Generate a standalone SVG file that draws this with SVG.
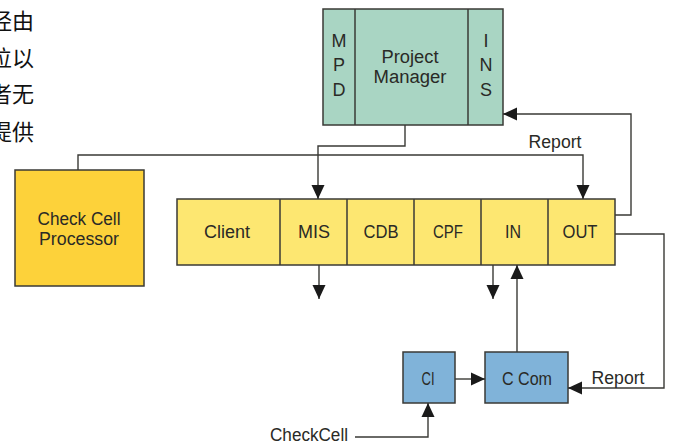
<svg xmlns="http://www.w3.org/2000/svg" width="673" height="444" viewBox="0 0 673 444">
<defs>
<style>
.box{stroke:#3a3a36;stroke-width:1.5}
.pm{fill:#a9d5c3}
.row{fill:#fde771}
.ccp{fill:#fdd23a}
.blue{fill:#80b3d9}
.t{font-family:"Liberation Sans",Arial,sans-serif;font-size:18px;fill:#2a2a26;text-anchor:middle}
.zh{font-family:"Noto Sans CJK SC","Noto Sans CJK JP",serif;font-size:22px;fill:#111}
.c{fill:none;stroke:#3a3a36;stroke-width:1.4}
</style>
<marker id="ah" markerUnits="userSpaceOnUse" markerWidth="14" markerHeight="14" viewBox="0 0 14 14" refX="14" refY="7" orient="auto">
<path d="M0,0.5 L14,7 L0,13.5 Z" fill="#1a1a1a"/>
</marker>
</defs>
<rect width="673" height="444" fill="#fff"/>

<g id="side-text">
<text class="zh" x="-10" y="29">经由</text>
<text class="zh" x="-10" y="66">位以</text>
<text class="zh" x="-10" y="102">者无</text>
<text class="zh" x="-10" y="140">提供</text>
</g>

<g id="project-manager">
<rect class="box pm" x="323" y="9" width="180" height="116"/>
<line class="box" x1="355" y1="9" x2="355" y2="125"/>
<line class="box" x1="468" y1="9" x2="468" y2="125"/>
<text class="t" x="339" y="47">M</text>
<text class="t" x="339" y="71">P</text>
<text class="t" x="339" y="96">D</text>
<text class="t" x="410" y="63" textLength="57" lengthAdjust="spacingAndGlyphs">Project</text>
<text class="t" x="410" y="83" textLength="73" lengthAdjust="spacingAndGlyphs">Manager</text>
<text class="t" x="486" y="47">I</text>
<text class="t" x="486" y="71">N</text>
<text class="t" x="486" y="96">S</text>
</g>

<g id="check-cell-processor">
<rect class="box ccp" x="15" y="170" width="129" height="116"/>
<text class="t" x="79" y="225" textLength="83" lengthAdjust="spacingAndGlyphs">Check Cell</text>
<text class="t" x="79" y="245" textLength="80" lengthAdjust="spacingAndGlyphs">Processor</text>
</g>

<g id="module-row">
<rect class="box row" x="177" y="199" width="438" height="66"/>
<line class="box" x1="280" y1="199" x2="280" y2="265"/>
<line class="box" x1="347" y1="199" x2="347" y2="265"/>
<line class="box" x1="414" y1="199" x2="414" y2="265"/>
<line class="box" x1="481" y1="199" x2="481" y2="265"/>
<line class="box" x1="548" y1="199" x2="548" y2="265"/>
<text class="t" x="227" y="238" textLength="46" lengthAdjust="spacingAndGlyphs">Client</text>
<text class="t" x="314" y="238" textLength="32" lengthAdjust="spacingAndGlyphs">MIS</text>
<text class="t" x="381" y="238" textLength="35" lengthAdjust="spacingAndGlyphs">CDB</text>
<text class="t" x="448" y="238" textLength="30" lengthAdjust="spacingAndGlyphs">CPF</text>
<text class="t" x="513" y="238" textLength="16" lengthAdjust="spacingAndGlyphs">IN</text>
<text class="t" x="580" y="238" textLength="35" lengthAdjust="spacingAndGlyphs">OUT</text>
</g>

<g id="ci">
<rect class="box blue" x="403" y="352" width="52" height="51"/>
<text class="t" x="428" y="385" textLength="13" lengthAdjust="spacingAndGlyphs">CI</text>
</g>

<g id="ccom">
<rect class="box blue" x="485" y="352" width="83" height="51"/>
<text class="t" x="527" y="385" textLength="50" lengthAdjust="spacingAndGlyphs">C Com</text>
</g>

<g id="connectors">
<path class="c" d="M405,125 V146 H318 V199" marker-end="url(#ah)"/>
<path class="c" d="M78,170 V155 H583 V199" marker-end="url(#ah)"/>
<path class="c" d="M615,215 H631 V114 H503" marker-end="url(#ah)"/>
<path class="c" d="M615,234 H664 V388 H568" marker-end="url(#ah)"/>
<path class="c" d="M455,379 H485" marker-end="url(#ah)"/>
<path class="c" d="M517,352 V265" marker-end="url(#ah)"/>
<path class="c" d="M355,437 H428 V403" marker-end="url(#ah)"/>
<path class="c" d="M319,265 V299" marker-end="url(#ah)"/>
<path class="c" d="M493,265 V299" marker-end="url(#ah)"/>
<text class="t" x="555" y="148" textLength="53" lengthAdjust="spacingAndGlyphs">Report</text>
<text class="t" x="618" y="384" textLength="53" lengthAdjust="spacingAndGlyphs">Report</text>
<text class="t" x="309" y="441" textLength="78" lengthAdjust="spacingAndGlyphs">CheckCell</text>
</g>
</svg>
